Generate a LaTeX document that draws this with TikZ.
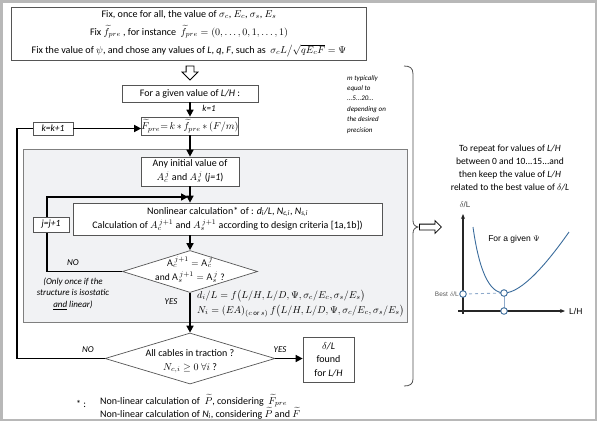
\documentclass[tikz,border=0pt]{standalone}
\usepackage{amsmath}
\usepackage{fontspec}
\setmainfont{Carlito}
\newfontfamily\graphfont{Liberation Sans}
\usetikzlibrary{arrows.meta,shapes.geometric,shapes.arrows}
\definecolor{framegray}{HTML}{B8B8B8}
\definecolor{boxline}{HTML}{555555}
\definecolor{panelfill}{HTML}{F1F2F4}
\definecolor{panelline}{HTML}{7F7F7F}
\definecolor{curveblue}{HTML}{3B6C9C}
\definecolor{guideblue}{HTML}{8EAACB}
\definecolor{bracegray}{HTML}{505050}

\begin{document}
\begin{tikzpicture}[
  x=1pt,
  y=-1pt,
  every node/.style={font=\fontsize{10}{12}\selectfont, inner sep=0pt},
  stepbox/.style={draw=boxline, line width=0.7pt, fill=white, align=center},
  counter/.style={stepbox, font=\fontsize{9.5}{11}\selectfont\itshape},
  decision/.style={draw=boxline, line width=0.7pt, fill=white, shape=diamond},
  flow/.style={line width=1.5pt, -{Triangle[length=7pt,width=7pt]}},
  loopline/.style={line width=1.5pt},
  hollow/.style={draw=black, line width=0.8pt, fill=white, shape=single arrow,
    single arrow head extend=4pt, single arrow head indent=0pt},
  tag/.style={font=\fontsize{9}{11.5}\selectfont\itshape},
  axis/.style={line width=1.1pt, draw=black!85, -{Stealth[length=5pt,width=4pt]}},
  pin/.style={draw=curveblue, line width=0.9pt, fill=white}
]
  \useasboundingbox (0,0) rectangle (597,421);
  \draw[framegray, line width=2.5pt] (1.25,1.25) rectangle (595.75,419.75);

  % inner loop on j
  \path[draw=panelline, fill=panelfill, line width=0.7pt] (23,149) rectangle (407,322);

  \node[stepbox, minimum width=355pt, minimum height=53pt,
    font=\fontsize{10.1}{18}\selectfont] (fix) at (189,33.5)
    {Fix, once for all, the value of $\sigma_c$, $E_c$, $\sigma_s$, $E_s$\\
     Fix $\widetilde{f}_{pre}$ , for instance \ $\widetilde{f}_{pre}=(0,\ldots,0,1,\ldots,1)$\\
     Fix the value of $\psi$, and chose any values of \textit{L}, \textit{q}, \textit{F}, such as \
     $\sigma_c L\big/\sqrt{qE_cF}=\Psi$};
  \node[hollow, rotate=-90, minimum height=14pt, inner sep=3.5pt] (down) at (190,71) {};

  \node[stepbox, minimum width=136pt, minimum height=17pt] (given) at (190,93.5)
    {For a given value of \textit{L/H} :};
  \node[stepbox, minimum width=97pt, minimum height=18pt] (fpre) at (190,126)
    {$\widetilde{F}_{pre}{=}\,k\,{*}\,\widetilde{f}_{pre}\,{*}\,(F/m)$};
  \node[counter, minimum width=40pt, minimum height=13pt] (kinc) at (53,128.5) {k=k+1};
  \node[tag] (kone) at (209,108) {k=1};
  \node[align=left, anchor=north west, font=\fontsize{7}{10.4}\selectfont\itshape]
    (mnote) at (347,75) {m typically\\equal to\\...5...20...\\depending on\\the desired\\precision};

  \node[stepbox, minimum width=98pt, minimum height=29pt, font=\fontsize{10}{13.5}\selectfont]
    (init) at (190,171.5)
    {Any initial value of\\$A_c^{\,j}$ and $A_s^{\,j}$ (\textit{j=1})};
  \node[stepbox, minimum width=309pt, minimum height=32pt, font=\fontsize{10}{14}\selectfont]
    (nonlin) at (227.5,219)
    {Nonlinear calculation* of : \textit{d\textsubscript{i}/L}, \textit{N\textsubscript{c,i}},
     \textit{N\textsubscript{s,i}}\\
     Calculation of $A_c^{\,j+1}$ and $A_s^{\,j+1}$ according to design criteria [1a,1b])};
  \coordinate (jin) at (188,197);
  \coordinate (inner) at (47,0);

  \node[decision, minimum width=135pt, minimum height=42pt] (cmp) at (190,271.5) {};
  \node[align=center, font=\fontsize{9.5}{14.5}\selectfont] (cmptext) at (190,269.5)
    {$\mathsf{A}_c^{\,j+1}=\mathsf{A}_c^{\,j}$\\and $\mathsf{A}_s^{\,j+1}=\mathsf{A}_s^{\,j}$ ?};
  \node[tag] (nojl) at (73,263) {NO};
  \node[tag] (yesj) at (171,302) {YES};
  \node[tag, align=center] (once) at (73,293.5)
    {(Only once if the\\structure is isostatic\\\underline{and} linear)};
  \node[align=left, anchor=west, font=\fontsize{9.8}{15}\selectfont] (laws) at (197,303.5)
    {$d_i/L=f\big(L/H,L/D,\Psi,\sigma_c/E_c,\sigma_s/E_s\big)$\\
     $N_i=(EA)_{(c\text{ or }s)}\,f\big(L/H,L/D,\Psi,\sigma_c/E_c,\sigma_s/E_s\big)$};

  \node[decision, minimum width=170pt, minimum height=51pt] (cables) at (190,358.5) {};
  \node[align=center, font=\fontsize{10}{14}\selectfont] (cablestext) at (190,361)
    {All cables in traction ?\\$N_{c,i}\geq 0\ \forall i$ ?};
  \node[tag] (nok) at (88,350) {NO};
  \node[tag] (yesk) at (280,350) {YES};
  \node[stepbox, minimum width=51pt, minimum height=45pt, font=\fontsize{10}{13.5}\selectfont]
    (found) at (328.5,359.5) {\textit{$\delta$/L}\\found\\for \textit{L/H}};
  \coordinate (outer) at (17,0);

  \node (star) at (81,404) {* :};
  \node[align=left, anchor=west, font=\fontsize{10}{13}\selectfont] (foot) at (100,406.5)
    {Non-linear calculation of \ $\widetilde{P}$, considering \ $\widetilde{F}_{pre}$\\
     Non-linear calculation of \textit{N\textsubscript{i}}, considering $\widetilde{P}$ and $\widetilde{F}$};

  % connectors
  \draw[flow] (given) -- (fpre);
  \draw[flow] (kinc.east) -- (kinc.east -| fpre.west);
  \draw[flow] (fpre) -- (init);
  \draw[flow] (init.south) -- (init.south |- nonlin.north);
  \draw[flow] (cmp.north |- nonlin.south) -- (cmp.north);
  \draw[flow] (cmp.west) -| (inner |- jin) -- (jin);
  \node[counter, minimum width=36pt, minimum height=15pt] (jinc) at (51,224.5) {j=j+1};
  \draw[flow] (cmp) -- (cables);
  \draw[flow] (cables.east) -- (found.west |- cables.east);
  \draw[loopline] (cables.west) -| (outer |- kinc.west) -- (kinc.west);

  % repeat over L/H
  \draw[bracegray, line width=0.8pt]
    (404,66) .. controls (410,66) and (413,68) .. (413,74) -- (413,220)
    .. controls (413,224) and (414,226) .. (418,227)
    .. controls (414,228) and (413,230) .. (413,234) -- (413,379)
    .. controls (413,384) and (410,386) .. (404,386);
  \node[hollow, minimum height=22pt, inner sep=2.5pt, single arrow head extend=3.5pt,
    anchor=tail] (right) at (419,227) {};
  \node[align=center, font=\fontsize{9.5}{13}\selectfont] (repeat) at (510,167.5)
    {To repeat for values of \textit{L/H}\\between 0 and 10...15...and\\
     then keep the value of \textit{L/H}\\related to the best value of \textit{$\delta$/L}};

  \draw[axis] (463,314) -- (463,214);
  \draw[axis] (458,311) -- (565,311);
  \node[font=\graphfont\fontsize{8}{10}\selectfont, text=black!75] (dl) at (465,205) {$\delta$/L};
  \node[font=\graphfont\fontsize{8.5}{10}\selectfont, anchor=west] (lh) at (569,311) {L/H};
  \node[font=\graphfont\fontsize{8.5}{10}\selectfont] (given psi) at (514,239) {For a given $\Psi$};
  \node[font=\graphfont\fontsize{6.5}{8}\selectfont, text=black!65, anchor=east] (best) at (459,294)
    {Best $\delta$/L};
  \draw[guideblue, line width=0.9pt, dashed] (463,294) -- (504,293);
  \draw[guideblue, line width=0.9pt] (504,293) -- (504,311);
  \draw[curveblue, line width=0.9pt]
    (473,227) .. controls (479,270) and (489,293) .. (504,293)
    .. controls (522,293) and (548,262) .. (569,232);
  \draw[pin] (463,294) circle (3.3);
  \draw[pin] (504,293) circle (3.3);
  \draw[pin] (504,311) circle (3.3);
\end{tikzpicture}
\end{document}
